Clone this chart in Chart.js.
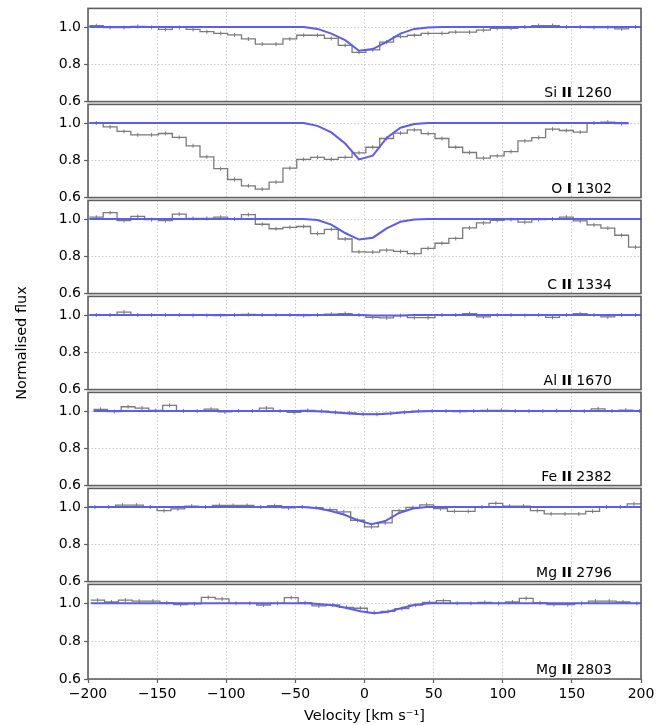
<!DOCTYPE html>
<html>
<head>
<meta charset="utf-8">
<script src="https://cdn.jsdelivr.net/npm/chart.js@4.4.1/dist/chart.umd.min.js"></script>
<style>
  html, body { margin: 0; padding: 0; background: #ffffff; }
  #figure { position: relative; width: 670px; height: 725px; overflow: hidden; }
  .panel { position: absolute; left: 0; width: 670px; }
</style>
</head>
<body>
<div id="figure"></div>
<script>
// Absorption-line stack: normalised flux against velocity for each transition.
const transitions = ['Si II 1260', 'O I 1302', 'C II 1334', 'Al II 1670', 'Fe II 2382', 'Mg II 2796', 'Mg II 2803'];
const firstBinCentre = [-194, -194, -194, -194, -191, -195, -193]; // km/s
const binWidth = 10; // km/s
const velocityTicks = [-200, -150, -100, -50, 0, 50, 100, 150, 200];
const fluxTicks = [0.6, 0.8, 1.0];

// Observed (binned) normalised flux
const siII1260Flux = [1.007,0.997,0.997,1.003,0.998,0.987,0.998,0.987,0.975,0.966,
                      0.958,0.936,0.908,0.908,0.936,0.956,0.956,0.939,0.902,0.864,
                      0.878,0.919,0.949,0.956,0.966,0.966,0.973,0.973,0.983,0.993,
                      0.993,1.0,1.008,1.008,1.0,1.0,0.997,0.997,0.99,1.0];
const oI1302Flux   = [1.0,0.979,0.955,0.937,0.937,0.944,0.923,0.878,0.819,0.755,
                      0.697,0.663,0.645,0.683,0.758,0.805,0.816,0.805,0.816,0.84,
                      0.87,0.917,0.946,0.963,0.943,0.917,0.87,0.842,0.812,0.824,
                      0.847,0.904,0.922,0.967,0.96,0.951,1.0,1.005,0.997];
const cII1334Flux  = [1.01,1.034,0.991,1.014,0.997,0.991,1.026,1.003,1.003,1.01,
                      1.0,1.024,0.972,0.948,0.955,0.96,0.922,0.945,0.893,0.824,
                      0.823,0.833,0.826,0.814,0.843,0.87,0.896,0.953,0.979,0.993,
                      0.997,0.983,0.997,1.0,1.01,0.99,0.969,0.951,0.913,0.849];
const alII1670Flux = [1.0,1.0,1.016,1.0,1.0,1.0,1.0,0.998,0.998,0.997,
                      1.0,1.003,1.0,1.0,1.0,0.997,1.0,1.005,1.008,1.0,
                      0.988,0.985,0.997,0.986,0.986,1.0,1.0,1.007,0.99,1.0,
                      1.0,0.998,1.0,0.988,1.0,1.007,1.0,0.99,1.0,1.0];
const feII2382Flux = [1.009,0.997,1.023,1.016,1.003,1.03,1.0,1.0,1.01,0.995,
                      1.0,1.0,1.016,1.0,0.993,1.003,1.0,0.993,0.99,0.983,
                      0.983,0.988,0.993,1.0,1.0,1.0,0.997,1.0,1.004,1.004,
                      1.0,1.0,1.0,1.002,1.002,1.0,1.012,1.0,1.005,1.0];
const mgII2796Flux = [1.0,1.0,1.01,1.01,1.0,0.981,0.99,1.005,1.0,1.009,
                      1.009,1.009,1.0,1.007,0.995,1.0,0.997,0.986,0.974,0.929,
                      0.894,0.915,0.981,0.998,1.012,0.991,0.977,0.977,1.0,1.02,
                      1.005,1.005,0.981,0.963,0.963,0.963,0.977,1.0,1.0,1.017];
const mgII2803Flux = [1.017,1.007,1.017,1.012,1.012,1.003,0.993,0.997,1.031,1.023,
                      1.0,1.0,0.991,1.0,1.03,1.003,0.986,0.991,0.979,0.974,
                      0.951,0.957,0.972,0.99,1.005,1.014,1.0,1.0,1.005,1.0,
                      1.007,1.026,1.003,0.993,0.993,1.0,1.012,1.012,1.007,1.0];

// Fitted absorption model, same velocity bins
const siII1260Model = [1,1,1,1,1,1,1,1,1,1, 1,1,1,1,1,1,0.99,0.965,0.93,0.873,
                       0.882,0.92,0.965,0.99,0.998,1,1,1,1,1, 1,1,1,1,1,1,1,1,1,1];
const oI1302Model   = [1,1,1,1,1,1,1,1,1,1, 1,1,1,1,1,1,0.985,0.95,0.89,0.805,
                       0.825,0.92,0.975,0.995,1,1,1,1,1,1, 1,1,1,1,1,1,1,1,1];
const cII1334Model  = [1,1,1,1,1,1,1,1,1,1, 1,1,1,1,1,1,0.995,0.97,0.925,0.89,
                       0.9,0.95,0.985,0.998,1,1,1,1,1,1, 1,1,1,1,1,1,1,1,1,1];
const alII1670Model = [1,1,1,1,1,1,1,1,1,1, 1,1,1,1,1,1,1,1,1,1,
                       0.998,0.997,0.998,1,1,1,1,1,1,1, 1,1,1,1,1,1,1,1,1,1];
const feII2382Model = [1,1,1,1,1,1,1,1,1,1, 1,1,1,1,1,1,0.997,0.992,0.987,0.983,
                       0.983,0.987,0.993,0.997,1,1,1,1,1,1, 1,1,1,1,1,1,1,1,1,1];
const mgII2796Model = [1,1,1,1,1,1,1,1,1,1, 1,1,1,1,1,1,0.995,0.98,0.96,0.93,
                       0.908,0.925,0.968,0.992,1,1,1,1,1,1, 1,1,1,1,1,1,1,1,1,1];
const mgII2803Model = [1,1,1,1,1,1,1,1,1,1, 1,1,1,1,1,1,0.996,0.99,0.975,0.958,
                       0.948,0.955,0.975,0.992,1,1,1,1,1,1, 1,1,1,1,1,1,1,1,1,1];

const fluxSeries  = [siII1260Flux, oI1302Flux, cII1334Flux, alII1670Flux, feII2382Flux, mgII2796Flux, mgII2803Flux];
const modelSeries = [siII1260Model, oI1302Model, cII1334Model, alII1670Model, feII2382Model, mgII2796Model, mgII2803Model];

const FONT = 'DejaVu Sans';
const DATA_GREY = '#7a7a7a';
const MODEL_BLUE = '#5c5cee';
const GRID = '#c4c4c4';
const SPINE = '#5e5e5e';

Chart.defaults.font.family = FONT;
Chart.defaults.font.size = 14;
Chart.defaults.color = '#000';

// Points at bin centres, plus the outer half-bin edges so steps reach the bin limits
function binnedPoints(panel, values) {
  const pts = values.map((v, k) => ({ x: firstBinCentre[panel] + k * binWidth, y: v }));
  pts.unshift({ x: pts[0].x - binWidth / 2, y: values[0], edge: true });
  pts.push({ x: pts[pts.length - 1].x + binWidth / 2, y: values[values.length - 1], edge: true });
  return pts;
}

function formatVelocity(v) {
  return v < 0 ? '\u2212' + Math.abs(v) : String(v);
}

// Frame around each panel and the transition name in its lower-right corner
const panelFrame = {
  id: 'panelFrame',
  afterDatasetsDraw(chart, args, opts) {
    const { ctx, chartArea: a } = chart;
    ctx.save();
    ctx.strokeStyle = SPINE;
    ctx.lineWidth = 1.6;
    ctx.strokeRect(a.left, a.top, a.right - a.left, a.bottom - a.top);

    const [element, ion, wave] = opts.label.split(' ');
    const regular = '14px "' + FONT + '"';
    const bold = 'bold 14px "' + FONT + '"';
    ctx.font = regular;
    const w1 = ctx.measureText(element + ' ').width;
    const w3 = ctx.measureText(' ' + wave).width;
    ctx.font = bold;
    const w2 = ctx.measureText(ion).width;
    let x = a.right - 29 - (w1 + w2 + w3);
    const y = a.bottom - 5;
    ctx.fillStyle = '#000';
    ctx.textBaseline = 'alphabetic';
    ctx.textAlign = 'left';
    ctx.font = regular; ctx.fillText(element + ' ', x, y); x += w1;
    ctx.font = bold;    ctx.fillText(ion, x, y); x += w2;
    ctx.font = regular; ctx.fillText(' ' + wave, x, y);
    ctx.restore();
  }
};

const figure = document.getElementById('figure');
const PANEL_TOP = 7;
const PANEL_H = 96;
const PAD = 10;
const X_AXIS_H = 46;
const Y_AXIS_W = 88;
const RIGHT_PAD = 29;

transitions.forEach((name, i) => {
  const isBottom = i === transitions.length - 1;
  const padBottom = isBottom ? 0 : PAD;
  const canvasH = PAD + PANEL_H + padBottom + (isBottom ? X_AXIS_H : 0);

  const holder = document.createElement('div');
  holder.className = 'panel';
  holder.style.top = (PANEL_TOP + i * PANEL_H - PAD) + 'px';
  holder.style.height = canvasH + 'px';
  const canvas = document.createElement('canvas');
  canvas.width = 670;
  canvas.height = canvasH;
  holder.appendChild(canvas);
  figure.appendChild(holder);

  new Chart(canvas, {
    type: 'line',
    data: {
      datasets: [
        {
          label: name + ' model',
          data: binnedPoints(i, modelSeries[i]),
          borderColor: MODEL_BLUE,
          borderWidth: 2,
          pointRadius: 0,
          tension: 0,
          order: 0
        },
        {
          label: name + ' flux',
          data: binnedPoints(i, fluxSeries[i]),
          borderColor: DATA_GREY,
          borderWidth: 1.3,
          stepped: 'middle',
          pointStyle: 'line',
          pointRotation: 90,
          pointRadius: ctx => (ctx.raw && ctx.raw.edge ? 0 : 2),
          pointBorderColor: DATA_GREY,
          pointBorderWidth: 1,
          order: 1
        }
      ]
    },
    options: {
      responsive: false,
      devicePixelRatio: 1,
      animation: false,
      events: [],
      layout: { padding: { top: PAD, bottom: padBottom, left: 0, right: RIGHT_PAD } },
      plugins: {
        legend: { display: false },
        tooltip: { enabled: false },
        panelFrame: { label: name }
      },
      scales: {
        x: {
          type: 'linear',
          min: -200,
          max: 200,
          afterBuildTicks: s => { s.ticks = velocityTicks.map(v => ({ value: v })); },
          afterFit: s => { s.height = isBottom ? X_AXIS_H : 0; },
          ticks: {
            display: isBottom,
            maxRotation: 0,
            autoSkip: false,
            padding: 3,
            callback: v => formatVelocity(v)
          },
          grid: {
            color: GRID,
            lineWidth: 0.9,
            drawTicks: isBottom,
            tickLength: 4,
            tickColor: SPINE,
            tickWidth: 1.2,
            tickBorderDash: []
          },
          border: { display: false, dash: [1.5, 2] },
          title: {
            display: isBottom,
            text: 'Velocity [km s\u207B\u00B9]',
            font: { size: 14.5 },
            padding: { top: 0, bottom: 0 }
          }
        },
        y: {
          type: 'linear',
          min: 0.6,
          max: 1.1,
          afterBuildTicks: s => { s.ticks = fluxTicks.map(v => ({ value: v })); },
          afterFit: s => { s.width = Y_AXIS_W; },
          ticks: {
            padding: 3,
            callback: v => Number(v).toFixed(1)
          },
          grid: {
            color: GRID,
            lineWidth: 0.9,
            tickLength: 4,
            tickColor: SPINE,
            tickWidth: 1.2,
            tickBorderDash: []
          },
          border: { display: false, dash: [1.5, 2] },
          title: {
            display: i === 3,
            text: 'Normalised flux',
            font: { size: 14.5 },
            padding: { top: 14, bottom: 0 }
          }
        }
      }
    },
    plugins: [panelFrame]
  });
});
</script>
</body>
</html>
